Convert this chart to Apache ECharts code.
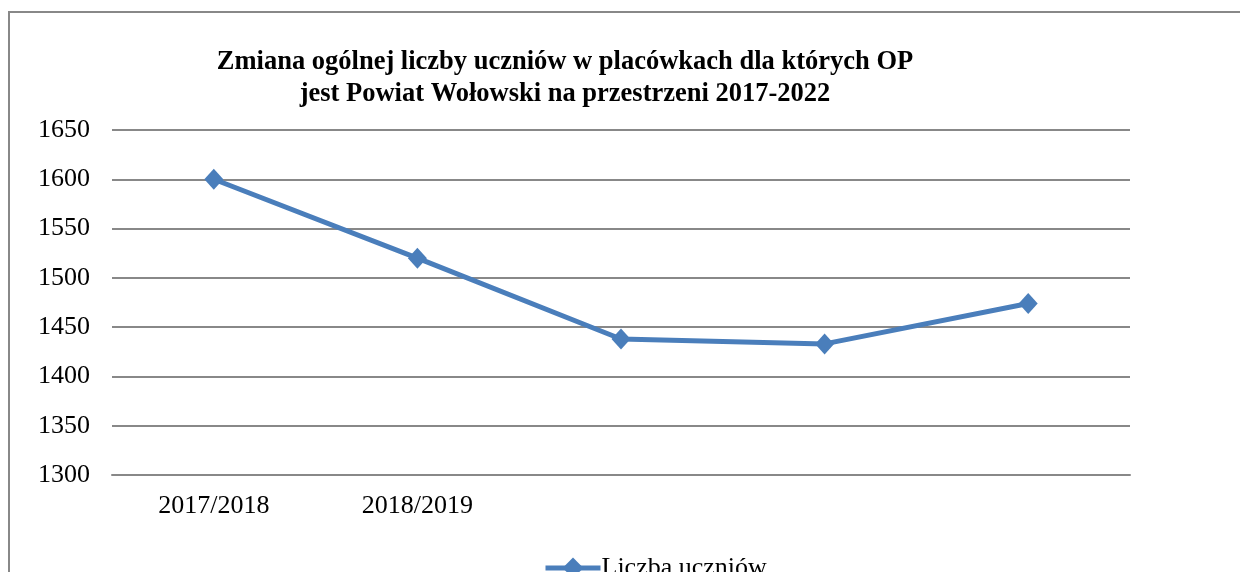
<!DOCTYPE html>
<html>
<head>
<meta charset="utf-8">
<script src="https://cdn.jsdelivr.net/npm/echarts@6/dist/echarts.min.js"></script>
<style>
html,body{margin:0;padding:0;background:#fff;}
#chart{width:1240px;height:572px;}
</style>
</head>
<body>
<div id="chart"></div>
<script>
const titleText = 'Zmiana ogólnej liczby uczniów w placówkach dla których OP\njest Powiat Wołowski na przestrzeni 2017-2022';
const categories = ['2017/2018', '2018/2019', '', '', ''];
const seriesName = 'Liczba uczniów';
const values = [1600, 1520, 1438, 1433, 1474];
const yMin = 1300, yMax = 1650, yStep = 50;

const FONT = '"Liberation Serif", "Times New Roman", serif';
const chart = echarts.init(document.getElementById('chart'), null, {renderer: 'canvas'});
chart.setOption({
  backgroundColor: '#ffffff',
  animation: false,
  graphic: [{
    type: 'rect',
    shape: {x: 9, y: 12, width: 1400, height: 800},
    style: {fill: 'none', stroke: '#888888', lineWidth: 2},
    silent: true
  }],
  title: {
    text: titleText,
    left: 560,
    top: 41,
    textAlign: 'center',
    textStyle: {fontFamily: FONT, fontWeight: 'bold', fontSize: 26.5, lineHeight: 32, color: '#000'}
  },
  legend: {
    data: [seriesName],
    left: 538,
    top: 550,
    itemWidth: 55,
    itemHeight: 26,
    itemGap: 10,
    lineStyle: {width: 5, color: '#4A7EBB'},
    textStyle: {fontFamily: FONT, fontSize: 26, color: '#000', padding: [0,0,0,-4]}
  },
  grid: {left: 112, right: 110, top: 130, bottom: 97, containLabel: false},
  xAxis: {
    type: 'category',
    data: categories,
    boundaryGap: true,
    axisLine: {lineStyle: {color: '#888888', width: 2}},
    axisTick: {show: false},
    axisLabel: {fontFamily: FONT, fontSize: 26, color: '#000', margin: 18, interval: 0}
  },
  yAxis: {
    type: 'value',
    min: yMin, max: yMax, interval: yStep,
    axisLine: {show: false},
    axisTick: {show: false},
    splitLine: {lineStyle: {color: '#888888', width: 2}},
    axisLabel: {fontFamily: FONT, fontSize: 26, color: '#000', margin: 22, formatter: v => String(v)}
  },
  series: [{
    name: seriesName,
    type: 'line',
    data: values,
    symbol: 'diamond',
    symbolSize: [19, 21],
    lineStyle: {color: '#4A7EBB', width: 5},
    itemStyle: {color: '#4A7EBB'}
  }]
});
</script>
</body>
</html>
